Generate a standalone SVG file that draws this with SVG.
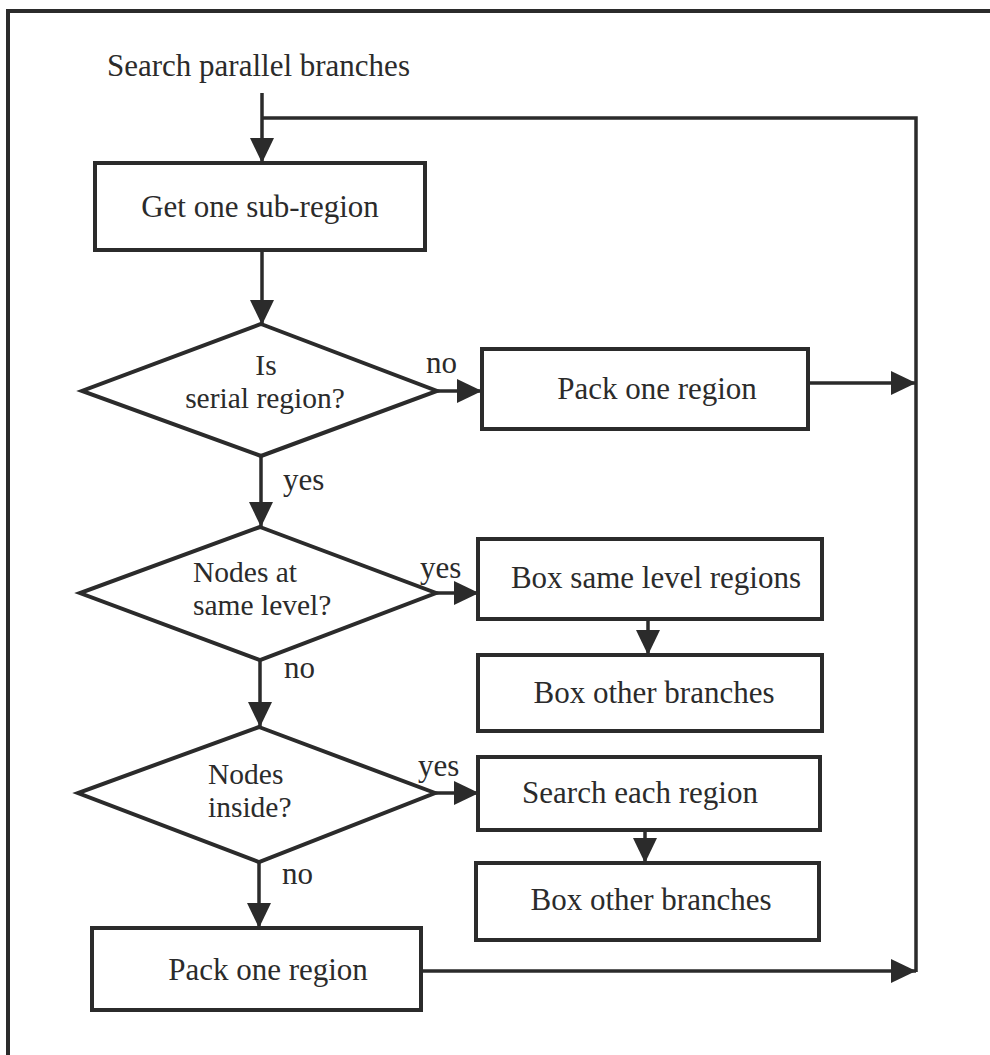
<svg xmlns="http://www.w3.org/2000/svg" width="990" height="1055" viewBox="0 0 990 1055">
<defs>
<style>
.shape{fill:#fff;stroke:#2b2b2b;stroke-width:4}
.conn{fill:none;stroke:#2b2b2b;stroke-width:3.5}
.arr{marker-end:url(#ah)}
text{font-family:"Liberation Serif","Times New Roman",serif;font-size:31px;fill:#2b2b2b}
.d{font-size:29.5px}
.c{text-anchor:middle}
</style>
<marker id="ah" markerUnits="userSpaceOnUse" markerWidth="26" markerHeight="24" refX="25" refY="12" orient="auto">
<path d="M0,0 L25,12 L0,24 Z" fill="#2b2b2b"/>
</marker>
</defs>
<rect width="990" height="1055" fill="#fff"/>
<path d="M8,1055 V11 H990" fill="none" stroke="#2b2b2b" stroke-width="4"/>
<g id="title"><text x="107" y="76">Search parallel branches</text></g>
<g id="connectors">
<path class="conn" d="M262,118 H916 V972"/>
<path class="conn arr" d="M262,93 V163"/>
<path class="conn arr" d="M262,250 V325"/>
<path class="conn arr" d="M437,391 H482"/>
<path class="conn arr" d="M808,383 H916"/>
<path class="conn arr" d="M261,456 V527"/>
<path class="conn arr" d="M436,593 H479"/>
<path class="conn arr" d="M648,619 V655"/>
<path class="conn arr" d="M260,660 V727"/>
<path class="conn arr" d="M435,793 H479"/>
<path class="conn arr" d="M645,830 V863"/>
<path class="conn arr" d="M259,862 V928"/>
<path class="conn arr" d="M421,971 H916"/>
<text x="426" y="373">no</text>
<text x="283" y="490">yes</text>
<text x="420" y="578">yes</text>
<text x="284" y="678">no</text>
<text x="418" y="776">yes</text>
<text x="282" y="884">no</text>
</g>
<g id="get-sub-region"><rect class="shape" x="95" y="163" width="330" height="87"/><text class="c" x="260" y="217">Get one sub-region</text></g>
<g id="is-serial"><polygon class="shape" points="261,324 437,391 261,456 82,391"/><text class="c d" x="266" y="375">Is</text><text class="c d" x="265" y="408">serial region?</text></g>
<g id="pack-one-top"><rect class="shape" x="482" y="349" width="326" height="80"/><text class="c" x="657" y="399">Pack one region</text></g>
<g id="same-level"><polygon class="shape" points="260,527 436,593 260,660 80,593"/><text class="d" x="193" y="582">Nodes at</text><text class="d" x="193" y="615">same level?</text></g>
<g id="box-same-level"><rect class="shape" x="478" y="539" width="344" height="80"/><text class="c" x="656" y="588">Box same level regions</text></g>
<g id="box-other-1"><rect class="shape" x="478" y="655" width="344" height="76"/><text class="c" x="654" y="703">Box other branches</text></g>
<g id="nodes-inside"><polygon class="shape" points="259,727 435,793 259,862 78,793"/><text class="d" x="208" y="784">Nodes</text><text class="d" x="208" y="817">inside?</text></g>
<g id="search-each"><rect class="shape" x="478" y="757" width="342" height="73"/><text class="c" x="640" y="803">Search each region</text></g>
<g id="box-other-2"><rect class="shape" x="476" y="863" width="343" height="77"/><text class="c" x="651" y="910">Box other branches</text></g>
<g id="pack-one-bottom"><rect class="shape" x="92" y="928" width="329" height="82"/><text class="c" x="268" y="980">Pack one region</text></g>
</svg>
